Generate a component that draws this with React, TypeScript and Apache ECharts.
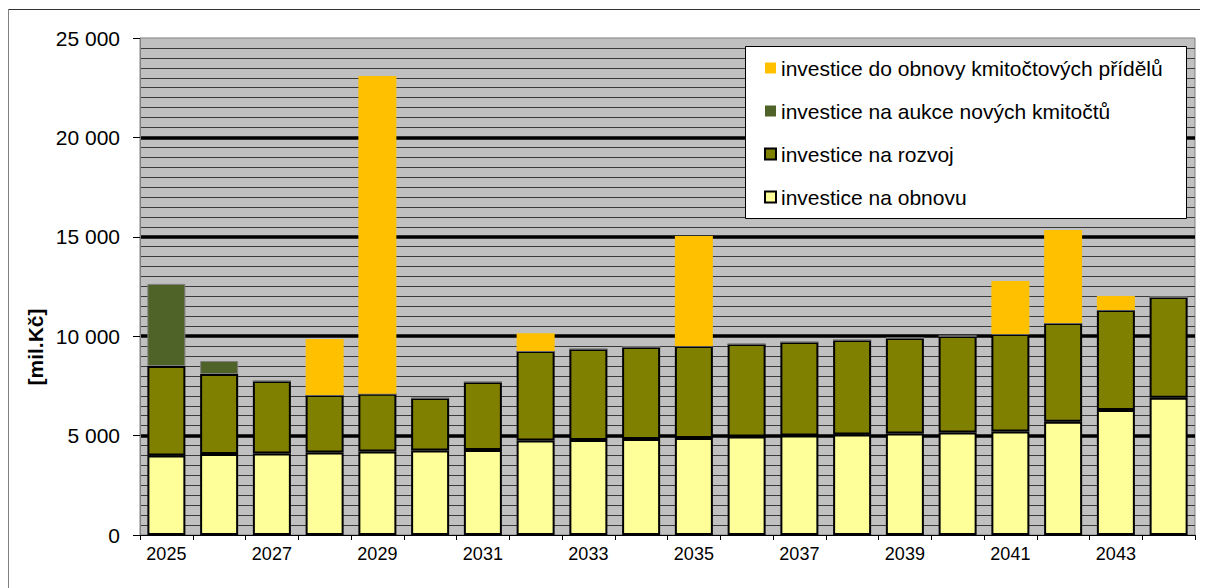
import React, { useEffect, useRef } from "react";
import * as echarts from "echarts";

const years = ["2025","2026","2027","2028","2029","2030","2031","2032","2033","2034","2035","2036","2037","2038","2039","2040","2041","2042","2043","2044"];
const obnova = [4000, 4070, 4100, 4150, 4200, 4250, 4270, 4750, 4780, 4830, 4880, 4950, 5000, 5050, 5100, 5150, 5200, 5700, 6290, 6900];
const rozvoj = [4500, 4030, 3650, 2890, 2900, 2640, 3430, 4500, 4580, 4630, 4630, 4660, 4710, 4760, 4810, 4860, 4910, 4960, 5030, 5070];
const aukce = [4130, 650, 0, 0, 0, 0, 0, 0, 0, 0, 0, 0, 0, 0, 0, 0, 0, 0, 0, 0];
const pridely = [0, 0, 0, 2820, 15990, 0, 0, 900, 0, 0, 5530, 0, 0, 0, 0, 0, 2670, 4680, 700, 0];
const yTicks = [0, 5000, 10000, 15000, 20000, 25000];

const names = {
  pridely: "investice do obnovy kmitočtových přídělů",
  aukce: "investice na aukce nových kmitočtů",
  rozvoj: "investice na rozvoj",
  obnova: "investice na obnovu",
};

const FONT = "'Liberation Sans', Arial, sans-serif";

export default function App() {
  const ref = useRef<HTMLDivElement>(null);
  useEffect(() => {
    if (!ref.current) return;
    const chart = echarts.init(ref.current, undefined, { renderer: "svg" });
    const fmt = (v: number) => String(v).replace(/\B(?=(\d{3})+(?!\d))/g, " ");
    chart.setOption({
      animation: false,
      textStyle: { fontFamily: FONT },
      grid: {
        left: 132, right: 13, top: 30, bottom: 53,
        show: true, backgroundColor: "#C0C0C0", borderColor: "#808080", borderWidth: 1,
      },
      legend: {
        orient: "vertical",
        left: 756,
        top: 49,
        padding: 0,
        itemGap: 21,
        itemWidth: 11,
        itemHeight: 11,
        icon: "rect",
        z: 20,
        textStyle: { fontSize: 21, lineHeight: 22, color: "#000", fontFamily: FONT },
        data: [
          { name: names.pridely, itemStyle: { borderWidth: 0 } },
          { name: names.aukce, itemStyle: { borderWidth: 0 } },
          { name: names.rozvoj, itemStyle: { borderWidth: 2, borderColor: "#000" } },
          { name: names.obnova, itemStyle: { borderWidth: 2, borderColor: "#000" } },
        ],
      },
      graphic: [
        { type: "line", shape: { x1: 0, y1: 1.5, x2: 1200, y2: 1.5 }, style: { stroke: "#333", lineWidth: 1 }, z: 10 },
        { type: "line", shape: { x1: 0.5, y1: 1, x2: 0.5, y2: 580 }, style: { stroke: "#808080", lineWidth: 1 }, z: 10 },
        { type: "rect", shape: { x: 737.5, y: 38.5, width: 441, height: 172 }, style: { fill: "#fff", stroke: "#000", lineWidth: 1 }, z: 10 },
        {
          type: "text", x: 27, y: 339, rotation: Math.PI / 2, z: 10,
          style: { text: "[mil.Kč]", font: `bold 21px ${FONT}`, fill: "#000", textAlign: "center", textVerticalAlign: "middle" },
        },
      ],
      xAxis: {
        type: "category",
        data: years,
        boundaryGap: true,
        axisLine: { show: true, lineStyle: { color: "#000", width: 1 } },
        axisTick: { show: true, interval: 0, alignWithLabel: false, length: 5, lineStyle: { color: "#000" } },
        axisLabel: { interval: 1, fontSize: 18, color: "#000", margin: 10, fontFamily: FONT },
        splitLine: { show: false },
      },
      yAxis: {
        type: "value",
        min: 0,
        max: 25000,
        interval: 5000,
        axisLine: { show: true, lineStyle: { color: "#808080" } },
        axisTick: { show: true, length: 7, lineStyle: { color: "#000" } },
        axisLabel: { fontSize: 21, color: "#000", margin: 20, fontFamily: FONT, formatter: (v: number) => (yTicks.includes(v) ? fmt(v) : "") },
        splitLine: { show: true, lineStyle: { color: ["transparent", "#000", "#000", "#000", "#000", "transparent"], width: 3.5 } },
        minorTick: { show: false, splitNumber: 10 },
        minorSplitLine: { show: true, lineStyle: { color: "#3a3a3a", width: 1.2 } },
      },
      series: [
        {
          name: names.obnova, type: "bar", stack: "a", data: obnova, barWidth: 38,
          itemStyle: { color: "#FFFF99", borderColor: "#000", borderWidth: 2 },
        },
        {
          name: names.rozvoj, type: "bar", stack: "a", data: rozvoj, barWidth: 38,
          itemStyle: { color: "#808000", borderColor: "#000", borderWidth: 2 },
        },
        {
          name: names.aukce, type: "bar", stack: "a", data: aukce, barWidth: 38,
          itemStyle: { color: "#4F6228", borderColor: "#7f7f7f", borderWidth: 1 },
        },
        {
          name: names.pridely, type: "bar", stack: "a", data: pridely, barWidth: 38,
          itemStyle: { color: "#FFC000", borderWidth: 0 },
        },
      ],
    });
    return () => chart.dispose();
  }, []);
  return <div ref={ref} style={{ width: 1200, height: 580 }} />;
}
